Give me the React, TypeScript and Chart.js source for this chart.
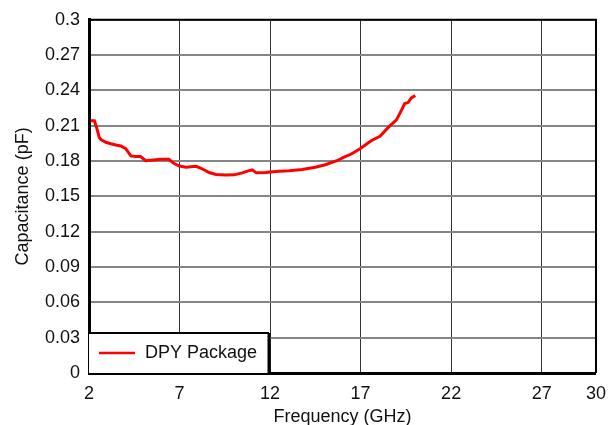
import React, { useEffect, useRef } from "react";
import Chart from "chart.js/auto";

// Measured package capacitance versus frequency
const FREQ_GHZ = [
  2.09, 2.3, 2.43, 2.57, 2.66, 2.93, 3.21, 3.48, 3.76, 4.03, 4.31, 4.58, 4.85, 5.13,
  5.4, 5.95, 6.41, 6.68, 6.99, 7.36, 7.91, 8.19, 8.64, 9.01, 9.56, 10.02, 10.47, 10.84,
  11.02, 11.24, 11.76, 12.49, 13.04, 13.77, 14.5, 15.05, 15.69, 16.06, 16.51, 16.97,
  17.43, 17.61, 18.07, 18.53, 18.98, 19.26, 19.44, 19.62, 19.8, 20.02,
];
const CAP_PF = [
  0.2142, 0.2142, 0.208, 0.2, 0.1983, 0.196, 0.1947, 0.1936, 0.1928, 0.1905, 0.1844,
  0.1839, 0.1839, 0.1803, 0.1808, 0.1815, 0.1815, 0.1781, 0.1758, 0.1748, 0.1756,
  0.1739, 0.1703, 0.1686, 0.1681, 0.1683, 0.17, 0.1719, 0.1725, 0.17, 0.1703, 0.1714,
  0.1717, 0.1728, 0.1747, 0.1769, 0.1803, 0.1831, 0.1862, 0.1905, 0.1956, 0.1975,
  0.2011, 0.2086, 0.215, 0.2233, 0.2289, 0.2297, 0.2336, 0.2358,
];
const SERIES_LABEL = "DPY Package";
const X_TICKS = [2, 7, 12, 17, 22, 27, 30];
const Y_TICKS = [0, 0.03, 0.06, 0.09, 0.12, 0.15, 0.18, 0.21, 0.24, 0.27, 0.3];
const X_TITLE = "Frequency (GHz)";
const Y_TITLE = "Capacitance (pF)";

const FONT_FAMILY = "'Liberation Sans', Arial, Helvetica, sans-serif";
const font = { family: FONT_FAMILY, size: 18 };

// Draws the top/right frame edges and the boxed legend in the lower-left corner.
const framePlugin = {
  id: "frameAndLegend",
  afterDraw(chart: any) {
    const { ctx, chartArea: a } = chart;
    ctx.save();
    ctx.strokeStyle = "#000";
    ctx.lineWidth = 2;
    ctx.beginPath();
    ctx.moveTo(a.left, a.top);
    ctx.lineTo(a.right, a.top);
    ctx.lineTo(a.right, a.bottom);
    ctx.stroke();

    const ds = chart.data.datasets[0];
    const boxW = 180;
    const boxH = 40;
    const bx = a.left;
    const by = a.bottom - boxH;
    ctx.fillStyle = "#fff";
    ctx.fillRect(bx, by, boxW, boxH);
    ctx.beginPath();
    ctx.lineWidth = 2;
    ctx.moveTo(bx, by);
    ctx.lineTo(bx + boxW, by);
    ctx.stroke();
    ctx.beginPath();
    ctx.lineWidth = 3;
    ctx.moveTo(bx + boxW, by);
    ctx.lineTo(bx + boxW, a.bottom);
    ctx.stroke();

    const ly = by + 20;
    ctx.strokeStyle = ds.borderColor;
    ctx.lineWidth = 2.5;
    ctx.beginPath();
    ctx.moveTo(bx + 10, ly);
    ctx.lineTo(bx + 46, ly);
    ctx.stroke();
    ctx.fillStyle = "#111";
    ctx.font = `18px ${FONT_FAMILY}`;
    ctx.textBaseline = "middle";
    ctx.textAlign = "left";
    ctx.fillText(ds.label, bx + 56, ly + 0.5);
    ctx.restore();
  },
};

export default function App() {
  const canvasRef = useRef<HTMLCanvasElement | null>(null);

  useEffect(() => {
    if (!canvasRef.current) return;
    const chart = new Chart(canvasRef.current, {
      type: "line",
      data: {
        datasets: [
          {
            label: SERIES_LABEL,
            data: FREQ_GHZ.map((f, i) => ({ x: f, y: CAP_PF[i] })),
            borderColor: "#ff0000",
            borderWidth: 3,
            pointRadius: 0,
            tension: 0,
            fill: false,
          },
        ],
      },
      options: {
        responsive: false,
        animation: false,
        layout: { padding: { left: 0, right: 17, top: 13, bottom: 2 } },
        plugins: {
          legend: { display: false },
          tooltip: { enabled: false },
        },
        scales: {
          x: {
            type: "linear",
            min: 2,
            max: 30,
            afterBuildTicks: (s: any) => {
              s.ticks = X_TICKS.map((v) => ({ value: v }));
            },
            afterFit: (s: any) => {
              s.height = 55;
            },
            ticks: {
              font,
              color: "#111",
              padding: 10,
              autoSkip: false,
              maxRotation: 0,
              callback: (v: any) => String(v),
            },
            grid: { color: "#333", lineWidth: 1, drawTicks: false },
            border: { color: "#000", width: 3 },
            title: {
              display: true,
              text: X_TITLE,
              font,
              color: "#111",
              padding: { top: 0, bottom: 0 },
            },
          },
          y: {
            type: "linear",
            min: 0,
            max: 0.3,
            afterBuildTicks: (s: any) => {
              s.ticks = Y_TICKS.map((v) => ({ value: v }));
            },
            afterFit: (s: any) => {
              s.width = 89;
            },
            ticks: {
              font,
              color: "#111",
              padding: 9,
              autoSkip: false,
              callback: (v: any) => String(Math.round(Number(v) * 100) / 100),
            },
            grid: { color: "#858585", lineWidth: 2, drawTicks: false },
            border: { color: "#000", width: 3 },
            title: {
              display: true,
              text: Y_TITLE,
              font,
              color: "#111",
              padding: { top: 12, bottom: 0 },
            },
          },
        },
      },
      plugins: [framePlugin],
    });
    return () => chart.destroy();
  }, []);

  return (
    <div
      style={{
        position: "fixed",
        left: 0,
        top: 0,
        width: 616,
        height: 425,
        overflow: "hidden",
        background: "#fff",
      }}
    >
      <canvas ref={canvasRef} width={616} height={430} style={{ display: "block" }} />
    </div>
  );
}
